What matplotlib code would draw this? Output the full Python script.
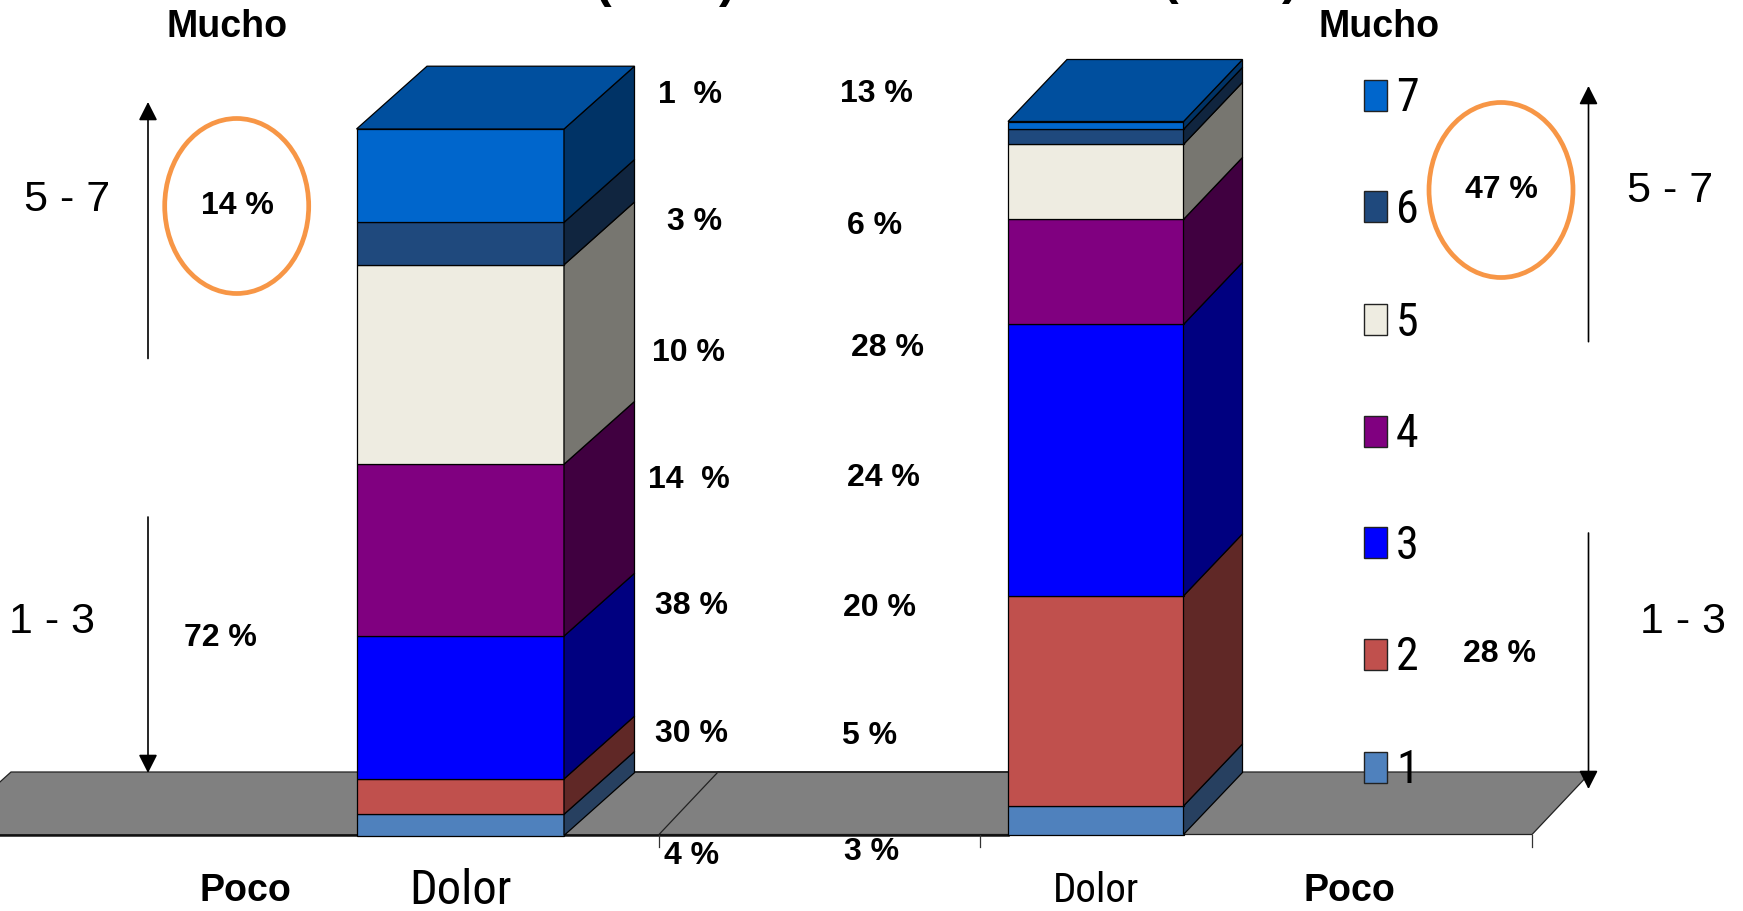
import matplotlib
matplotlib.use("Agg")
import matplotlib.pyplot as plt
from matplotlib.patches import Polygon, Rectangle, Ellipse

W, H = 1743, 911
levels = ["1", "2", "3", "4", "5", "6", "7"]
left_values = [3, 5, 20.2, 24.3, 28.2, 6, 13.2]
right_values = [4, 29.4, 38, 14.7, 10.5, 2.1, 1.1]
front_colors = ["#4F81BD", "#C0504D", "#0000FF", "#800080", "#EEECE1", "#1F497D", "#0066CC"]
side_colors = ["#274060", "#602826", "#000080", "#400040", "#777670", "#10253F", "#003366"]
top_color = "#004F9E"
floor_color = "#808080"
orange = "#F79646"
col_a_labels = ["1  %", "3 %", "10 %", "14  %", "38 %", "30 %", "4 %"]
col_b_labels = ["13 %", "6 %", "28 %", "24 %", "20 %", "5 %", "3 %"]

SANS = ["Liberation Sans", "DejaVu Sans"]
NARROW = ["Liberation Sans Narrow", "Roboto Condensed", "Roboto", "DejaVu Sans"]

fig = plt.figure(figsize=(W / 100, H / 100), dpi=100, facecolor="white")


def pixel_axes(z):
    ax = fig.add_axes([0, 0, 1, 1], zorder=z)
    ax.set_xlim(0, W)
    ax.set_ylim(H, 0)
    ax.axis("off")
    return ax


floor = pixel_axes(0)
floor.add_patch(Polygon([(-59, 835), (660, 835), (730, 772), (11, 772)],
                        fc=floor_color, ec="#222222", lw=0.9))
floor.add_patch(Polygon([(659, 834.5), (1532, 834.5), (1591, 772), (718, 772)],
                        fc=floor_color, ec="#222222", lw=0.9))
floor.plot([0, 1008], [835, 835], color="#111111", lw=1.8)
floor.plot([634, 1008], [772, 772], color="#222222", lw=1.2)
for x in (659, 980, 1532):
    floor.plot([x, x], [835, 847], color="#333333", lw=0.9)


def bar3d(values, left, right, base, top, depth_x, depth_y):
    total = sum(values)
    ax = fig.add_axes([left / W, (H - base) / H, (right - left) / W, (base - top) / H], zorder=1)
    ax.set_xlim(-0.5, 0.5)
    ax.set_ylim(0, total)
    ax.axis("off")
    dx = depth_x / (right - left)
    dy = depth_y / (base - top) * total
    bottom = 0
    for v, fc, sc in zip(values, front_colors, side_colors):
        ax.bar(0, v, width=1, bottom=bottom, color=fc, edgecolor="black", linewidth=0.9, clip_on=False)
        ax.add_patch(Polygon([(0.5, bottom), (0.5, bottom + v), (0.5 + dx, bottom + v + dy), (0.5 + dx, bottom + dy)],
                             fc=sc, ec="black", lw=0.9, clip_on=False))
        bottom += v
    ax.add_patch(Polygon([(-0.5, total), (0.5, total), (0.5 + dx, total + dy), (-0.5 + dx, total + dy)],
                         fc=top_color, ec="black", lw=0.9, clip_on=False))


bar3d(left_values, 356.5, 564, 835.5, 129, 70.5, 62.8)
bar3d(right_values, 1008, 1183.5, 834.5, 121.5, 59, 62)

over = pixel_axes(2)
over.patch.set_alpha(0)


def label(x, y, s, size, weight="normal", family=SANS):
    over.text(x, y + 4, s, fontsize=size, fontweight=weight, family=family, ha="center", va="center", color="black")


# parts of the titles that are cut by the top edge of the picture
for x in (603, 727):
    over.text(x, -3, "(" if x == 603 else ")", fontsize=36, fontweight="bold", family=SANS, ha="center", va="baseline")
for x in (1170, 1290):
    over.text(x, -6, "(" if x == 1170 else ")", fontsize=36, fontweight="bold", family=SANS, ha="center", va="baseline")

label(227.5, 23, "Mucho", 27, "bold")
label(1379.5, 23, "Mucho", 27, "bold")
label(245.5, 887, "Poco", 27, "bold")
label(1349, 887, "Poco", 27, "bold")
label(460.6, 887, "Dolor", 35, family=NARROW)
label(1096, 887, "Dolor", 29.5, family=NARROW)
label(66.6, 196.4, "5 - 7", 31)
label(51.6, 618, "1 - 3", 31)
label(1669.6, 186.5, "5 - 7", 31)
label(1683, 618, "1 - 3", 31)
label(237, 202, "14 %", 23, "bold")
label(220, 634.5, "72 %", 23, "bold")
label(1501, 186, "47 %", 23, "bold")
label(1500, 650, "28 %", 23, "bold")

col_a_pos = [(690, 90.6), (695, 218.5), (688.7, 348.6), (689, 476.5), (692, 602), (692, 730), (691.5, 852.4)]
col_b_pos = [(876.6, 90), (874.5, 222), (888, 344.5), (883, 474.5), (880, 604.5), (870, 732), (871.7, 848)]
for s, (x, y) in zip(col_a_labels, col_a_pos):
    label(x, y, s, 23, "bold")
for s, (x, y) in zip(col_b_labels, col_b_pos):
    label(x, y, s, 23, "bold")

for cx, cy in ((236.7, 206), (1501, 190)):
    over.add_patch(Ellipse((cx, cy), 144, 175, fc="none", ec=orange, lw=3.4))

for x, y0, y1 in ((148, 358.5, 102), (148, 517, 773), (1588.5, 341.7, 86), (1588.5, 533, 789)):
    over.annotate("", xy=(x, y1), xytext=(x, y0),
                  arrowprops=dict(arrowstyle="-|>,head_length=0.75,head_width=0.38", color="black",
                                  lw=1.2, shrinkA=0, shrinkB=0, mutation_scale=15))

legend_y = [767, 654, 542.7, 431, 319.6, 206.8, 95]
for s, fc, y in zip(levels, front_colors, legend_y):
    over.add_patch(Rectangle((1364.4, y - 15.5), 22.3, 31, fc=fc, ec="#222222", lw=1))
    over.text(1396, y + 3, s, fontsize=33, family=NARROW, ha="left", va="center", color="black")

fig.savefig("out.png", dpi=100, facecolor="white")
